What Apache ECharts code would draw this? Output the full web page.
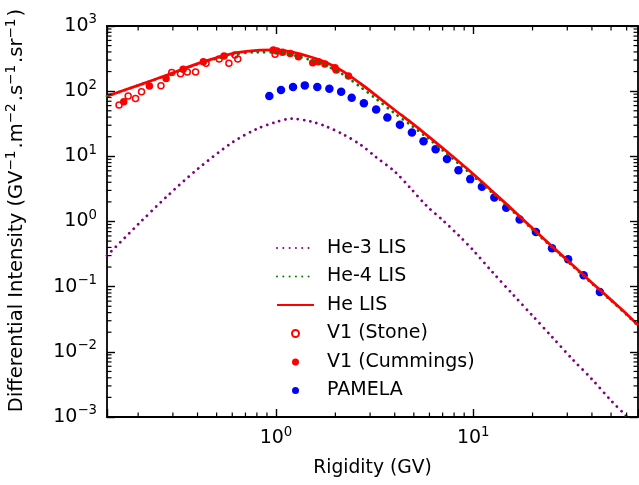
<!DOCTYPE html>
<html>
<head>
<meta charset="utf-8">
<script src="https://cdn.jsdelivr.net/npm/echarts@6/dist/echarts.min.js"></script>
<style>
  html, body { margin: 0; padding: 0; background: #fff; }
  #chart { width: 639px; height: 485px; }
</style>
</head>
<body>
<div id="chart"></div>
<script>
// Rigidity grid (GV) on which the local interstellar spectra are tabulated
const rigidityGrid = [0.139, 0.2, 0.28, 0.4, 0.6, 0.8, 1.0, 1.2, 1.5, 1.8, 2.2, 2.7, 3.2, 4.0, 4.8, 5.8, 7.0, 8.5, 10, 12.5, 16, 20, 25, 32, 40, 50, 60, 68.5];
// Differential intensity (GV^-1 m^-2 s^-1 sr^-1)
const he3LIS = [0.30, 0.906, 2.43, 6.37, 16.3, 26.4, 33.5, 37.9, 34.3, 28.7, 21.6, 14.9, 9.84, 5.85, 3.27, 1.74, 1.05, 0.60, 0.362, 0.168, 0.0744, 0.0358, 0.0172, 0.0076, 0.00381, 0.00179, 0.00102, 0.00063];
const he4LIS = [83.7, 122.1, 174.6, 258.6, 361.7, 395.6, 395.5, 362.1, 299.7, 246.3, 177.9, 113.9, 77.3, 45.6, 30.4, 19.7, 12.35, 7.58, 4.99, 2.75, 1.40, 0.749, 0.404, 0.205, 0.111, 0.0609, 0.037, 0.0251];
const heLIS = [84, 123, 177, 265, 378, 422, 429, 400, 334, 275, 199.5, 128.8, 87.1, 51.4, 33.7, 21.4, 13.4, 8.18, 5.35, 2.92, 1.47, 0.785, 0.421, 0.213, 0.115, 0.0627, 0.038, 0.0257];

// Voyager 1 observations
const stoneRigidity = [0.160, 0.178, 0.194, 0.208, 0.261, 0.296, 0.328, 0.355, 0.391, 0.442, 0.515, 0.577, 0.619, 0.640, 0.989];
const stoneIntensity = [61.2, 84.1, 77.4, 98, 121, 194, 185, 196, 196, 267, 311, 267, 359, 311, 367];
const cummingsRigidity = [0.169, 0.228, 0.277, 0.338, 0.428, 0.545, 0.969, 1.01, 1.08, 1.18, 1.30, 1.535, 1.64, 1.77, 1.99, 2.02, 2.33];
const cummingsIntensity = [68.7, 120, 157, 216, 283, 346, 428, 413, 394, 380, 337, 273, 283, 261, 229, 211, 171];

// PAMELA helium spectrum
const pamelaRigidity = [0.925, 1.06, 1.22, 1.40, 1.62, 1.865, 2.14, 2.42, 2.79, 3.22, 3.67, 4.25, 4.89, 5.60, 6.45, 7.36, 8.42, 9.66, 11.07, 12.8, 14.7, 17.2, 20.8, 25.1, 30.3, 36.3, 43.9];
const pamelaIntensity = [84.1, 104, 115.6, 122.7, 115.6, 108.9, 97.9, 79.2, 65.0, 52.5, 39.6, 30.5, 23.3, 17.1, 12.9, 9.12, 6.14, 4.47, 3.40, 2.34, 1.63, 1.07, 0.692, 0.389, 0.264, 0.150, 0.083];

// Axis ranges and minor tick positions
const xRange = [0.139, 68.5];
const yRange = [1e-3, 1e3];
const xMinorTicks = [0.2, 0.3, 0.4, 0.5, 0.6, 0.7, 0.8, 0.9, 2, 3, 4, 5, 6, 7, 8, 9, 20, 30, 40, 50, 60];
const yMinorTicks = [];
for (let e = -3; e < 3; e++) for (let m = 2; m <= 9; m++) yMinorTicks.push(m * Math.pow(10, e));

const seriesNames = ['He-3 LIS', 'He-4 LIS', 'He LIS', 'V1 (Stone)', 'V1 (Cummings)', 'PAMELA'];
const lineNames = ['He-3 LIS', 'He-4 LIS', 'He LIS'];

const FONT = 'DejaVu Sans';
const FS = 19;
const SUP = 13.3;
const BLACK = '#000';
const pair = (xs, ys) => xs.map((x, i) => [x, ys[i]]);

function powerLabel(v) {
  const e = Math.log10(v);
  const r = Math.round(e);
  if (Math.abs(e - r) > 1e-6) return '';
  return '{b|10}{s|' + String(r).replace('-', '\u2212') + '}';
}
const labelRich = {
  b: { fontSize: FS, fontFamily: FONT, color: BLACK, lineHeight: 25 },
  s: { fontSize: SUP, fontFamily: FONT, color: BLACK, lineHeight: 15, verticalAlign: 'top' }
};

const tickStyle = { color: BLACK, width: 1.4 };
const lineAxis = { show: true, lineStyle: { color: BLACK, width: 1.8 } };

function makeAxis(type, range, position, showLabels, extra) {
  return Object.assign({
    type: 'log', logBase: 10, min: range[0], max: range[1], position: position,
    splitNumber: type === 'x' ? 3 : 6,
    axisLine: lineAxis,
    axisTick: { show: true, inside: true, length: 8, lineStyle: tickStyle },
    axisLabel: showLabels
      ? { show: true, formatter: powerLabel, rich: labelRich, margin: type === 'x' ? 9 : 10, showMinLabel: true, showMaxLabel: true, hideOverlap: false }
      : { show: false },
    splitLine: { show: false },
    minorTick: { show: false }
  }, extra || {});
}

const MINOR_LEN = 4.5;
const minorStyle = { stroke: BLACK, lineWidth: 1.2 };
function xMinorRender(params, api) {
  const cs = params.coordSys;
  const x = api.coord([api.value(0), yRange[0]])[0];
  const yb = cs.y + cs.height;
  return { type: 'group', children: [
    { type: 'line', shape: { x1: x, y1: yb, x2: x, y2: yb - MINOR_LEN }, style: minorStyle },
    { type: 'line', shape: { x1: x, y1: cs.y, x2: x, y2: cs.y + MINOR_LEN }, style: minorStyle }
  ] };
}
function yMinorRender(params, api) {
  const cs = params.coordSys;
  const y = api.coord([xRange[0], api.value(1)])[1];
  const xr = cs.x + cs.width;
  return { type: 'group', children: [
    { type: 'line', shape: { x1: cs.x, y1: y, x2: cs.x + MINOR_LEN, y2: y }, style: minorStyle },
    { type: 'line', shape: { x1: xr, y1: y, x2: xr - MINOR_LEN, y2: y }, style: minorStyle }
  ] };
}

const dotted = (color) => ({ color: color, width: 2.8, type: [0.01, 6.3], cap: 'round' });

// y-axis title: regular text with raised exponents
const yNameFS = 19.5;
const yNameSup = 13.6;

const chart = echarts.init(document.getElementById('chart'), null, { renderer: 'canvas' });
chart.setOption({
  animation: false,
  backgroundColor: '#fff',
  grid: { left: 107, right: 1, top: 26, bottom: 68, containLabel: false, outerBoundsMode: 'none' },
  xAxis: [
    makeAxis('x', xRange, 'bottom', true, {
      name: 'Rigidity (GV)', nameLocation: 'middle', nameGap: 42,
      nameTextStyle: { fontFamily: FONT, fontSize: 18.7, color: BLACK }
    }),
    makeAxis('x', xRange, 'top', false)
  ],
  yAxis: [
    makeAxis('y', yRange, 'left', true, {
      name: '{p|}{a|Differential Intensity (GV}{s|\u22121}{a|.m}{s|\u22122}{a|.s}{s|\u22121}{a|.sr}{s|\u22121}{a|)}',
      nameLocation: 'middle', nameGap: 78,
      nameTextStyle: {
        fontFamily: FONT, fontSize: yNameFS, color: BLACK,
        rich: {
          p: { width: 22, lineHeight: 25 },
          a: { fontFamily: FONT, fontSize: yNameFS, color: BLACK, lineHeight: 25 },
          s: { fontFamily: FONT, fontSize: yNameSup, color: BLACK, lineHeight: 15, verticalAlign: 'top', padding: [0, 2, 0, 0] }
        }
      }
    }),
    makeAxis('y', yRange, 'right', false)
  ],
  legend: {
    data: seriesNames.map(n => lineNames.indexOf(n) >= 0 ? { name: n, itemStyle: { opacity: 0 } } : { name: n }),
    orient: 'vertical', left: 276, top: 238, padding: 0,
    itemWidth: 37, itemHeight: 7, itemGap: 8.5,
    textStyle: { fontFamily: FONT, fontSize: FS, color: BLACK, lineHeight: 20, padding: [0, 0, 0, 8] },
    selectedMode: false
  },
  series: [
    { name: 'He-3 LIS', type: 'line', data: pair(rigidityGrid, he3LIS), symbol: 'none', smooth: 0.3, lineStyle: dotted('#800080') },
    { name: 'He-4 LIS', type: 'line', data: pair(rigidityGrid, he4LIS), symbol: 'none', smooth: 0.3, lineStyle: dotted('#008000') },
    { name: 'He LIS', type: 'line', data: pair(rigidityGrid, heLIS), symbol: 'none', smooth: 0.3, lineStyle: { color: '#ff0000', width: 2.8 } },
    { name: 'V1 (Stone)', type: 'scatter', data: pair(stoneRigidity, stoneIntensity), symbol: 'circle', symbolSize: 6,
      itemStyle: { color: 'rgba(255,255,255,0)', borderColor: '#ff0000', borderWidth: 1.5, opacity: 1 } },
    { name: 'V1 (Cummings)', type: 'scatter', data: pair(cummingsRigidity, cummingsIntensity), symbol: 'circle', symbolSize: 7.5,
      itemStyle: { color: '#ff0000', opacity: 1 } },
    { name: 'PAMELA', type: 'scatter', data: pair(pamelaRigidity, pamelaIntensity), symbol: 'circle', symbolSize: 8.5,
      itemStyle: { color: '#0000ff', opacity: 1 } },
    { type: 'custom', data: xMinorTicks.map(v => [v, yRange[0]]), renderItem: xMinorRender, silent: true, clip: false, z: 5 },
    { type: 'custom', data: yMinorTicks.map(v => [xRange[0], v]), renderItem: yMinorRender, silent: true, clip: false, z: 5 }
  ]
});
</script>
</body>
</html>
